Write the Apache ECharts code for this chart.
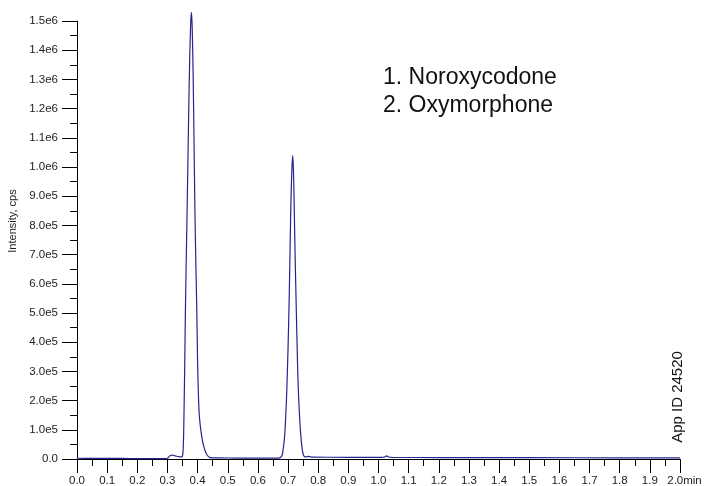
<!DOCTYPE html>
<html>
<head>
<meta charset="utf-8">
<script src="https://cdn.jsdelivr.net/npm/echarts@6/dist/echarts.min.js"></script>
<style>
  html, body { margin: 0; padding: 0; background: #fff; }
  #chart { width: 707px; height: 486px; }
</style>
</head>
<body>
<div id="chart"></div>
<script>
// retention time (min) and intensity (cps)
const times = [
  0.00, 0.05, 0.10, 0.15, 0.20, 0.25, 0.29, 0.300, 0.305, 0.310, 0.316, 0.322, 0.330, 0.340, 0.347,
  0.350, 0.352, 0.354, 0.357, 0.360, 0.364, 0.3675, 0.371, 0.374, 0.377, 0.3795, 0.382, 0.385, 0.388,
  0.391, 0.394, 0.397, 0.400, 0.403, 0.406, 0.410, 0.415, 0.420, 0.425, 0.430, 0.436, 0.442, 0.45,
  0.50, 0.55, 0.60, 0.66, 0.672, 0.680, 0.684, 0.688, 0.692, 0.696, 0.700, 0.704, 0.707, 0.710, 0.713,
  0.7155, 0.718, 0.720, 0.723, 0.7265, 0.730, 0.733, 0.736, 0.739, 0.742, 0.745, 0.748, 0.751, 0.755, 0.760,
  0.767, 0.772, 0.78, 0.85, 0.95, 1.01, 1.02, 1.027, 1.034, 1.045, 1.2, 1.5, 1.8, 2.0
];
const intensity = [
  2500, 2000, 2000, 1800, 1500, 1500, 1500, 2500, 8000, 12000, 13000, 12000, 9500, 7500, 7000,
  12000, 30000, 100000, 300000, 540000, 780000, 995000, 1220000, 1380000, 1490000, 1530000, 1480000, 1330000, 1100000,
  860000, 680000, 530000, 330000, 210000, 145000, 105000, 70000, 45000, 28000, 16000, 8000, 4500, 4000,
  3500, 3000, 3000, 3000, 4000, 12000, 35000, 70000, 140000, 240000, 380000, 560000, 740000, 900000, 1000000,
  1039000, 985000, 890000, 720000, 550000, 390000, 270000, 190000, 130000, 85000, 50000, 27000, 14000, 8000, 7500,
  9000, 8000, 6500, 6000, 5500, 5500, 7000, 11000, 7000, 5500, 5000, 4500, 4000, 4000
];
const compounds = ['1. Noroxycodone', '2. Oxymorphone'];
const appId = 'App ID 24520';

const fontFam = '"Liberation Sans", Arial, Helvetica, sans-serif';

const myChart = echarts.init(document.getElementById('chart'));

function sciLabel(v) {
  if (v === 0) return '0.0';
  const e = Math.floor(Math.log10(v) + 1e-9);
  const m = v / Math.pow(10, e);
  return m.toFixed(1) + 'e' + e;
}

const option = {
  backgroundColor: '#fff',
  animation: false,
  grid: { left: 77, right: 27, top: 21, bottom: 27, outerBoundsMode: 'none' },
  xAxis: {
    type: 'value',
    min: 0,
    max: 2,
    interval: 0.1,
    splitLine: { show: false },
    axisLine: { lineStyle: { color: '#000', width: 1 } },
    axisTick: { length: 14, lineStyle: { color: '#000' } },
    minorTick: { show: true, splitNumber: 2, length: 7, lineStyle: { color: '#000' } },
    axisLabel: {
      margin: 16,
      fontFamily: fontFam, fontSize: 11.5, color: '#222',
      // last tick carries the unit, pushed right so "2.0" stays under its tick
      formatter: v => Math.abs(v - 2) < 1e-9 ? '{e|2.0min}' : v.toFixed(1),
      rich: {
        e: { fontFamily: fontFam, fontSize: 11.5, color: '#222', padding: [0, 0, 0, 9] }
      }
    }
  },
  yAxis: {
    type: 'value',
    min: 0,
    max: 1500000,
    interval: 100000,
    name: 'Intensity, cps',
    nameLocation: 'middle',
    nameGap: 58,
    nameTextStyle: { fontFamily: fontFam, fontSize: 11, color: '#222', padding: [0, 0, 0, 38] },
    splitLine: { show: false },
    axisLine: { show: true, lineStyle: { color: '#000', width: 1 } },
    axisTick: { show: true, length: 15, lineStyle: { color: '#000' } },
    minorTick: { show: true, splitNumber: 2, length: 7, lineStyle: { color: '#000' } },
    axisLabel: {
      margin: 19,
      fontFamily: fontFam, fontSize: 11.5, color: '#222',
      formatter: sciLabel
    }
  },
  graphic: [
    { type: 'text', left: 383, top: 66, style: { text: compounds[0], font: '23px ' + fontFam, fill: '#111' } },
    { type: 'text', left: 383, top: 94, style: { text: compounds[1], font: '23px ' + fontFam, fill: '#111' } },
    { type: 'text', x: 678, y: 397, rotation: Math.PI / 2,
      style: { text: appId, font: '15px ' + fontFam, fill: '#111', align: 'center', verticalAlign: 'middle' } }
  ],
  series: [{
    type: 'line',
    data: times.map((t, i) => [t, intensity[i]]),
    showSymbol: false,
    smooth: 0.25,
    clip: false,
    lineStyle: { color: '#25258c', width: 1.2 }
  }]
};
myChart.setOption(option);
</script>
</body>
</html>
